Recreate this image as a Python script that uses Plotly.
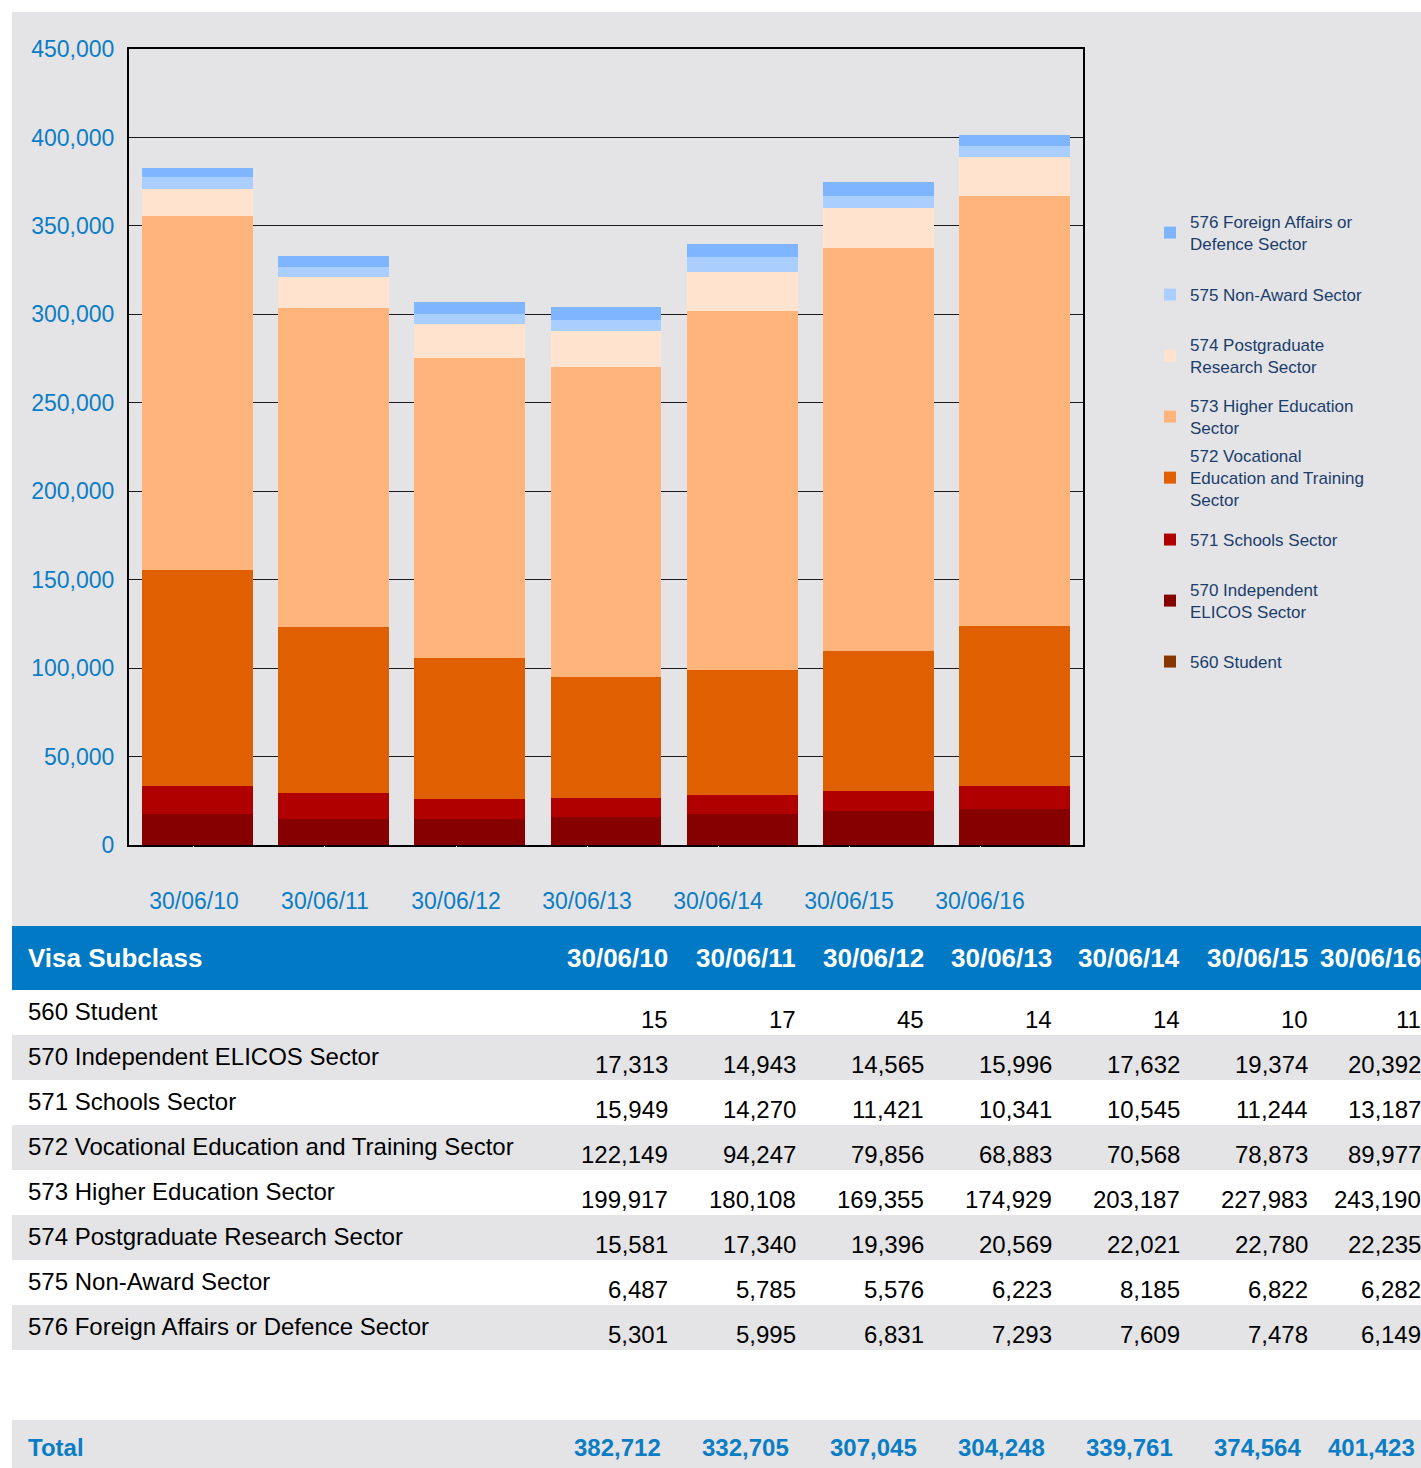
import plotly.graph_objects as go

dates = ['30/06/10', '30/06/11', '30/06/12', '30/06/13', '30/06/14', '30/06/15', '30/06/16']

student_560 = [15, 17, 45, 14, 14, 10, 11]
elicos_570 = [17313, 14943, 14565, 15996, 17632, 19374, 20392]
schools_571 = [15949, 14270, 11421, 10341, 10545, 11244, 13187]
vet_572 = [122149, 94247, 79856, 68883, 70568, 78873, 89977]
higher_573 = [199917, 180108, 169355, 174929, 203187, 227983, 243190]
postgrad_574 = [15581, 17340, 19396, 20569, 22021, 22780, 22235]
nonaward_575 = [6487, 5785, 5576, 6223, 8185, 6822, 6282]
foreign_576 = [5301, 5995, 6831, 7293, 7609, 7478, 6149]
totals = [382712, 332705, 307045, 304248, 339761, 374564, 401423]

row_labels = ['560 Student', '570 Independent ELICOS Sector', '571 Schools Sector',
              '572 Vocational Education and Training Sector', '573 Higher Education Sector',
              '574 Postgraduate Research Sector', '575 Non-Award Sector',
              '576 Foreign Affairs or Defence Sector']
legend_labels = ['560 Student', '570 Independent<br>ELICOS Sector', '571 Schools Sector',
                 '572 Vocational<br>Education and Training<br>Sector',
                 '573 Higher Education<br>Sector', '574 Postgraduate<br>Research Sector',
                 '575 Non-Award Sector', '576 Foreign Affairs or<br>Defence Sector']
series = [student_560, elicos_570, schools_571, vet_572, higher_573,
          postgrad_574, nonaward_575, foreign_576]
colors = ['#863600', '#870000', '#b00000', '#e05f00', '#ffb47c', '#ffe3cf', '#aacfff', '#7fb5ff']

W, H = 1421, 1468
FONT = 'Liberation Sans, Arial, sans-serif'
BLUE = '#0b7dc5'
NAVY = '#1b3d6b'
GREY = '#e4e4e7'


def px(x):
    return x / W


def py(y):
    return 1 - y / H


fig = go.Figure()

# legend centres (pixels), top item = 576
legend_y = [662, 601, 540, 478, 417, 356, 295, 233]

for i, (vals, name, col) in enumerate(zip(series, legend_labels, colors)):
    lg = 'legend' if i == 0 else 'legend%d' % (i + 1)
    fig.add_trace(go.Bar(
        x=dates, y=vals, name=name, marker=dict(color=col, line=dict(width=0)),
        legend=lg, showlegend=True,
    ))
    fig.update_layout({lg: dict(
        x=px(1150), y=py(legend_y[i]), xanchor='left', yanchor='middle',
        bgcolor='rgba(0,0,0,0)', font=dict(family=FONT, size=17, color=NAVY),
    )})

# empty trace so the label axis (x2) gets drawn
fig.add_trace(go.Scatter(x=list(range(len(dates))), y=[None] * len(dates), xaxis='x2',
                         showlegend=False, hoverinfo='skip', mode='markers'))

fig.update_layout(
    width=W, height=H,
    margin=dict(l=0, r=0, t=0, b=0, autoexpand=False),
    showlegend=True,
    paper_bgcolor='white',
    plot_bgcolor=GREY,
    barmode='stack',
    bargap=0.187,
    font=dict(family=FONT),
    xaxis=dict(
        domain=[px(129), px(1083)], type='category', range=[-0.5, 6.5],
        showticklabels=False, showline=True, linecolor='black', linewidth=2,
        mirror=True, showgrid=False, zeroline=False, automargin=False,
    ),
    xaxis2=dict(
        overlaying='x', anchor='y', side='bottom', range=[-0.496, 6.786],
        tickvals=list(range(len(dates))), ticktext=dates,
        showgrid=False, zeroline=False, showline=False, automargin=False,
        ticks='outside', ticklen=35, tickcolor=GREY,
        tickfont=dict(family=FONT, size=23, color=BLUE),
    ),
    yaxis=dict(
        domain=[py(845), py(49)], range=[0, 450000], dtick=50000, tickformat=',',
        showline=True, linecolor='black', linewidth=2, mirror=True,
        gridcolor='#1a1a1a', gridwidth=1, zeroline=False, automargin=False,
        ticks='outside', ticklen=8, tickcolor=GREY,
        tickfont=dict(family=FONT, size=23, color=BLUE),
    ),
)

shapes = []
annotations = []
# grey chart panel
shapes.append(dict(type='rect', xref='paper', yref='paper', x0=px(12), x1=1,
                   y0=py(926), y1=py(12), fillcolor=GREY, line_width=0, layer='below'))
# table header
shapes.append(dict(type='rect', xref='paper', yref='paper', x0=px(12), x1=1,
                   y0=py(990), y1=py(926), fillcolor='#0179c4', line_width=0, layer='below'))

col_right = [670, 798, 926, 1054, 1182, 1310, 1423]
tot_right = [663, 791, 919, 1047, 1175, 1303, 1417]

annotations.append(dict(xref='paper', yref='paper', x=px(26), y=py(958), xanchor='left',
                        yanchor='middle', text='<b>Visa Subclass</b>', showarrow=False,
                        font=dict(family=FONT, size=26, color='white')))
for d, xr in zip(dates, col_right):
    annotations.append(dict(xref='paper', yref='paper', x=px(xr), y=py(958), xanchor='right',
                            yanchor='middle', text='<b>%s</b>' % d, showarrow=False,
                            font=dict(family=FONT, size=26, color='white')))

row_h = 45
for r, (lab, vals) in enumerate(zip(row_labels, series)):
    top = 990 + r * row_h
    shapes.append(dict(type='rect', xref='paper', yref='paper', x0=px(12), x1=1,
                       y0=py(top + row_h), y1=py(top),
                       fillcolor='white' if r % 2 == 0 else GREY, line_width=0, layer='below'))
    annotations.append(dict(xref='paper', yref='paper', x=px(26), y=py(top + 21), xanchor='left',
                            yanchor='middle', text=lab, showarrow=False,
                            font=dict(family=FONT, size=24, color='black')))
    for v, xr in zip(vals, col_right):
        annotations.append(dict(xref='paper', yref='paper', x=px(xr), y=py(top + 29),
                                xanchor='right', yanchor='middle', text=f'{v:,}',
                                showarrow=False, font=dict(family=FONT, size=24, color='black')))

# total row
shapes.append(dict(type='rect', xref='paper', yref='paper', x0=px(12), x1=1,
                   y0=0, y1=py(1420), fillcolor=GREY, line_width=0, layer='below'))
annotations.append(dict(xref='paper', yref='paper', x=px(26), y=py(1447), xanchor='left',
                        yanchor='middle', text='<b>Total</b>', showarrow=False,
                        font=dict(family=FONT, size=24, color=BLUE)))
for v, xr in zip(totals, tot_right):
    annotations.append(dict(xref='paper', yref='paper', x=px(xr), y=py(1447), xanchor='right',
                            yanchor='middle', text=f'<b>{v:,}</b>', showarrow=False,
                            font=dict(family=FONT, size=24, color=BLUE)))

fig.update_layout(shapes=shapes, annotations=annotations)

fig.write_html("out.html", config={'displayModeBar': False},
               post_script="document.body.style.margin='0';document.body.style.overflow='hidden';")
